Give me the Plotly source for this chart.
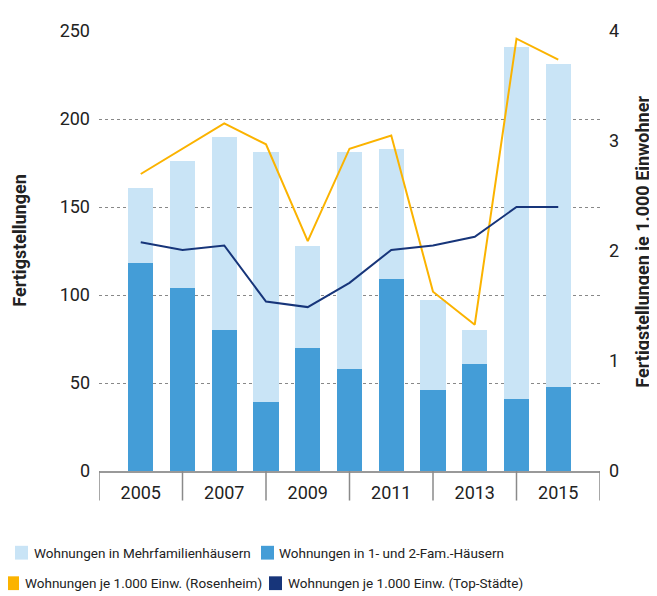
import plotly.graph_objects as go

years = [2005, 2006, 2007, 2008, 2009, 2010, 2011, 2012, 2013, 2014, 2015]
fam12 = [118, 104, 80, 39, 70, 58, 109, 46, 61, 41, 48]
mehrfam = [43, 72, 110, 142, 58, 123, 74, 51, 19, 200, 183]
rosenheim = [2.70, 2.93, 3.16, 2.97, 2.09, 2.93, 3.05, 1.63, 1.33, 3.93, 3.74]
topstaedte = [2.08, 2.01, 2.05, 1.54, 1.49, 1.71, 2.01, 2.05, 2.13, 2.40, 2.40]
xtick_years = [2005, 2007, 2009, 2011, 2013, 2015]
divider_years = [2004, 2006, 2008, 2010, 2012, 2014, 2016]
left_ticks = [0, 50, 100, 150, 200, 250]
right_ticks = [0, 1, 2, 3, 4]

LIGHT = "#C9E4F6"
DARK = "#449DD7"
ORANGE = "#FBB300"
NAVY = "#17357A"
FONT = "Roboto, Arial, sans-serif"
TXT = "#222222"

# the page body adds an 8px margin; size the figure so it fits the window
OFF = 8
W, H = 657 - OFF, 596 - OFF
L, T = 99 - OFF, 24 - OFF
R = W - (600 - OFF)
B = H - (471 - OFF)
PW, PH = W - L - R, H - T - B


def px(x):
    return (x - OFF - L) / PW


def py(y):
    return (H - B - (y - OFF)) / PH


fig = go.Figure()
fig.add_trace(go.Bar(x=years, y=fam12, name="Wohnungen in 1- und 2-Fam.-Häusern",
                     marker=dict(color=DARK, line=dict(width=0)), width=0.6, showlegend=False))
fig.add_trace(go.Bar(x=years, y=mehrfam, name="Wohnungen in Mehrfamilienhäusern",
                     marker=dict(color=LIGHT, line=dict(width=0)), width=0.6, showlegend=False))
fig.add_trace(go.Scatter(x=years, y=rosenheim, yaxis="y2", mode="lines",
                         name="Wohnungen je 1.000 Einw. (Rosenheim)",
                         line=dict(color=ORANGE, width=2), showlegend=False))
fig.add_trace(go.Scatter(x=years, y=topstaedte, yaxis="y2", mode="lines",
                         name="Wohnungen je 1.000 Einw. (Top-Städte)",
                         line=dict(color=NAVY, width=2), showlegend=False))

shapes = []
for d in divider_years:
    shapes.append(dict(type="line", xref="x", yref="paper", x0=d, x1=d, y0=0, y1=py(501),
                       line=dict(color="#8a8a8a", width=1.5)))

annotations = [
    dict(text="<b>Fertigstellungen</b>", xref="paper", yref="paper", x=px(20), y=py(237),
         textangle=-90, showarrow=False, font=dict(size=18, color=TXT),
         xanchor="center", yanchor="middle"),
    dict(text="<b>Fertigstellungen je 1.000 Einwohner</b>", xref="paper", yref="paper",
         x=px(643), y=py(238), textangle=-90, showarrow=False, font=dict(size=18, color=TXT),
         xanchor="center", yanchor="middle"),
]

# manual legend: (square x0, text x, row centre y, colour, label) in window pixels
legend_items = [
    (15, 32, 554, LIGHT, "Wohnungen in Mehrfamilienhäusern"),
    (261, 277, 554, DARK, "Wohnungen in 1- und 2-Fam.-Häusern"),
    (6, 23, 585, ORANGE, "Wohnungen je 1.000 Einw. (Rosenheim)"),
    (269, 286, 585, NAVY, "Wohnungen je 1.000 Einw. (Top-Städte)"),
]
for sx, tx, cy, col, lab in legend_items:
    shapes.append(dict(type="rect", xref="paper", yref="paper", x0=px(sx), x1=px(sx + 13),
                       y0=py(cy + 7), y1=py(cy - 7), fillcolor=col, line=dict(width=0)))
    annotations.append(dict(text=lab, xref="paper", yref="paper", x=px(tx), y=py(cy),
                            xanchor="left", yanchor="middle", showarrow=False,
                            font=dict(size=13.5, color=TXT)))

fig.update_layout(
    width=W, height=H,
    margin=dict(l=L, r=R, t=T, b=B),
    paper_bgcolor="white", plot_bgcolor="white",
    barmode="stack",
    showlegend=False,
    font=dict(family=FONT, size=18, color=TXT),
    xaxis=dict(range=[2004, 2016], tickvals=xtick_years, ticks="", showgrid=False,
               showline=True, linecolor="#999999", linewidth=2, zeroline=False,
               ticklabelstandoff=4, tickfont=dict(size=18, color=TXT)),
    yaxis=dict(range=[0, 250], tickvals=left_ticks, showgrid=True,
               gridcolor="#888888", griddash="dot", gridwidth=1, zeroline=False,
               showline=False, ticks="", ticklabelstandoff=8, tickfont=dict(size=18, color=TXT)),
    yaxis2=dict(range=[0, 4], tickvals=right_ticks, overlaying="y", side="right",
                showgrid=False, zeroline=False, showline=False, ticks="",
                ticklabelstandoff=8, tickfont=dict(size=18, color=TXT)),
    shapes=shapes,
    annotations=annotations,
)

fig.write_html("out.html")
